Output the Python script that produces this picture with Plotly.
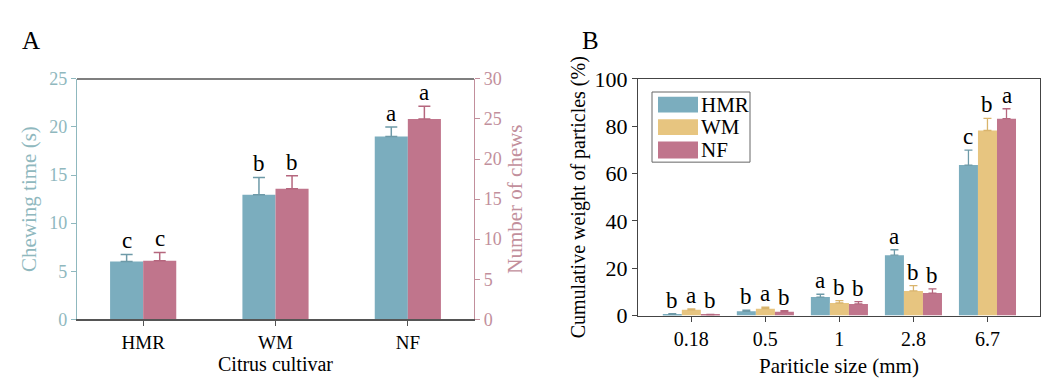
import plotly.graph_objects as go

# ---------------- data ----------------
cultivars = ["HMR", "WM", "NF"]
chew_time = [6.0, 12.95, 19.0]
chew_time_err = [0.75, 1.8, 1.0]
chew_time_letters = ["c", "b", "a"]
chew_num = [7.3, 16.3, 25.0]
chew_num_err = [1.05, 1.6, 1.6]
chew_num_letters = ["c", "b", "a"]

sizes = ["0.18", "0.5", "1", "2.8", "6.7"]
hmr = [0.5, 1.8, 7.8, 25.5, 63.6]
hmr_err = [0.3, 0.5, 1.2, 2.3, 6.3]
hmr_letters = ["b", "b", "a", "a", "c"]
wm = [2.4, 2.9, 5.3, 10.4, 78.2]
wm_err = [0.4, 0.6, 1.0, 2.2, 5.1]
wm_letters = ["a", "a", "b", "b", "b"]
nf = [0.3, 1.6, 4.9, 9.5, 83.2]
nf_err = [0.2, 0.5, 1.0, 1.8, 4.2]
nf_letters = ["b", "b", "b", "b", "a"]

TEAL = "#7BADBE"
PINK = "#C0758C"
YELLOW = "#E7C580"
TEAL_AX = "#8FB8BE"
PINK_AX = "#C28F9C"
FONT = "Liberation Serif"
W, H = 1050, 386

fig = go.Figure()

# ---------------- panel A ----------------
fig.add_trace(go.Bar(
    x=cultivars, y=chew_time, xaxis="x", yaxis="y",
    width=0.25, offset=-0.25, marker=dict(color=TEAL, line=dict(width=0)),
    error_y=dict(type="data", array=chew_time_err, arrayminus=[0]*3,
                 color="#6E9AA8", thickness=1.5, width=6),
    showlegend=False))
fig.add_trace(go.Bar(
    x=cultivars, y=chew_num, xaxis="x", yaxis="y2",
    width=0.25, offset=0.0, marker=dict(color=PINK, line=dict(width=0)),
    error_y=dict(type="data", array=chew_num_err, arrayminus=[0]*3,
                 color="#B5677E", thickness=1.5, width=6),
    showlegend=False))

LETTER_SIZE = 23
ann = []
for i, c in enumerate(cultivars):
    ann.append(dict(x=i - 0.125, y=chew_time[i] + chew_time_err[i], xref="x", yref="y",
                    text=chew_time_letters[i], showarrow=False, yanchor="bottom", yshift=-1,
                    font=dict(family=FONT, size=LETTER_SIZE, color="black")))
    ann.append(dict(x=i + 0.125, y=chew_num[i] + chew_num_err[i], xref="x", yref="y2",
                    text=chew_num_letters[i], showarrow=False, yanchor="bottom", yshift=-1,
                    font=dict(family=FONT, size=LETTER_SIZE, color="black")))

# ---------------- panel B ----------------
series = [("HMR", hmr, hmr_err, hmr_letters, TEAL, "#6E9AA8", -0.385),
          ("WM", wm, wm_err, wm_letters, YELLOW, "#D9B46C", -0.128),
          ("NF", nf, nf_err, nf_letters, PINK, "#B5677E", 0.129)]
bw = 0.257
for name, vals, errs, letters, col, ecol, off in series:
    fig.add_trace(go.Bar(
        x=sizes, y=vals, xaxis="x3", yaxis="y3", name=name,
        width=bw, offset=off, marker=dict(color=col, line=dict(width=0)),
        error_y=dict(type="data", array=errs, arrayminus=[0]*len(vals),
                     color=ecol, thickness=1.3, width=4),
        showlegend=False))
    for i in range(len(sizes)):
        ann.append(dict(x=i + off + bw / 2, y=vals[i] + errs[i], xref="x3", yref="y3",
                        text=letters[i], showarrow=False, yanchor="bottom", yshift=-1,
                        font=dict(family=FONT, size=LETTER_SIZE, color="black")))

# legend drawn as decoration (large swatches like the original)
def px(x):
    return x / W

def py(y):
    return 1 - y / H

shapes = [dict(type="rect", xref="paper", yref="paper", x0=px(644), x1=px(742),
               y0=py(152), y1=py(77), line=dict(color="#666666", width=1), fillcolor="white")]
rows = [(82, 99), (106, 123), (130, 148)]
for (name, _, _, _, col, _, _), (t, b) in zip(series, rows):
    shapes.append(dict(type="rect", xref="paper", yref="paper", x0=px(650), x1=px(690),
                       y0=py(b), y1=py(t), line=dict(width=0), fillcolor=col))
    ann.append(dict(x=px(691), y=py((t + b) / 2), xref="paper", yref="paper", text=name,
                    showarrow=False, xanchor="left", yanchor="middle",
                    font=dict(family=FONT, size=21, color="black")))

# panel labels
ann.append(dict(x=px(12), y=py(22), xref="paper", yref="paper", text="A", showarrow=False,
                xanchor="left", yanchor="middle", font=dict(family=FONT, size=25, color="black")))
ann.append(dict(x=px(572), y=py(22), xref="paper", yref="paper", text="B", showarrow=False,
                xanchor="left", yanchor="middle", font=dict(family=FONT, size=25, color="black")))

fig.update_layout(
    width=W, height=H,
    margin=dict(l=0, r=0, t=0, b=0),
    paper_bgcolor="white", plot_bgcolor="white",
    barmode="overlay",
    font=dict(family=FONT, color="black"),
    annotations=ann, shapes=shapes,
    xaxis=dict(domain=[px(69), px(466)], anchor="y", range=[-0.5, 2.5],
               showline=True, linecolor="#555555", linewidth=1.5, mirror=False,
               ticks="outside", ticklen=5, tickcolor="#555555",
               tickfont=dict(family=FONT, size=19, color="black"),
               title=dict(text="Citrus cultivar", font=dict(family=FONT, size=20, color="black"), standoff=3)),
    yaxis=dict(domain=[py(320), py(63)], anchor="x", range=[0, 25], dtick=5,
               showline=True, linecolor=TEAL_AX, linewidth=1.2, showgrid=False, zeroline=False,
               ticks="outside", ticklen=5, tickcolor=TEAL_AX,
               tickfont=dict(family=FONT, size=18, color=TEAL_AX),
               title=dict(text="Chewing time (s)", font=dict(family=FONT, size=21, color=TEAL_AX), standoff=6)),
    yaxis2=dict(overlaying="y", side="right", anchor="x", range=[0, 30], dtick=5,
                showline=True, linecolor=PINK_AX, linewidth=1.2, showgrid=False, zeroline=False,
                ticks="outside", ticklen=5, tickcolor=PINK_AX,
                tickfont=dict(family=FONT, size=18, color=PINK_AX),
                title=dict(text="Number of chews", font=dict(family=FONT, size=21, color=PINK_AX), standoff=6)),
    xaxis3=dict(domain=[px(630), px(1032)], anchor="y3", range=[-0.72, 4.71],
                showline=True, linecolor="#444444", linewidth=1.2, mirror=True,
                ticks="outside", ticklen=5, tickcolor="#444444",
                tickfont=dict(family=FONT, size=20, color="black"),
                title=dict(text="Pariticle size (mm)", font=dict(family=FONT, size=21, color="black"), standoff=9)),
    yaxis3=dict(domain=[py(316), py(63)], anchor="x3", range=[0, 100], dtick=20,
                showline=True, linecolor="#444444", linewidth=1.2, mirror=True,
                showgrid=False, zeroline=False,
                ticks="outside", ticklen=5, tickcolor="#444444",
                tickfont=dict(family=FONT, size=22, color="black"),
                title=dict(text="Cumulative weight of particles (%)", font=dict(family=FONT, size=20, color="black"), standoff=3)),
)

# top frame line for panel A
fig.add_shape(type="line", xref="x domain", yref="y domain", x0=0, x1=1, y0=1, y1=1,
              line=dict(color="#555555", width=1.5))

fig.write_html("out.html")
